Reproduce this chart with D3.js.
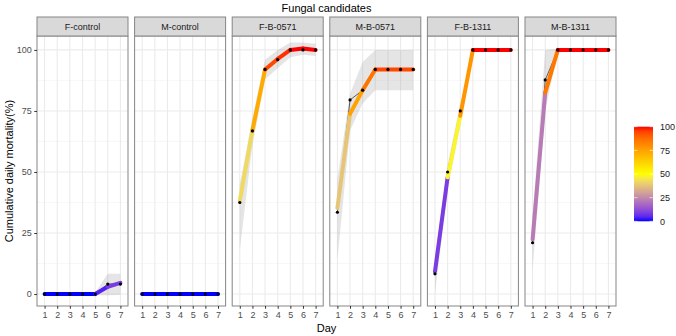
<!DOCTYPE html>
<html>
<head>
<meta charset="utf-8">
<script src="https://cdn.jsdelivr.net/npm/d3@7"></script>
<style>
  body { margin: 0; background: #fff; }
  svg { display: block; font-family: "Liberation Sans", Arial, sans-serif; }
</style>
</head>
<body>
<svg id="chart" width="676" height="336"></svg>
<script>
// ---------------- data ----------------
const days = [1, 2, 3, 4, 5, 6, 7];
const panels = ["F-control", "M-control", "F-B-0571", "M-B-0571", "F-B-1311", "M-B-1311"];

// observed cumulative mortality (black points)
const observed = [
  [0, 0, 0, 0, 0, 4.1, 4.1],
  [0, 0, 0, 0, 0, 0, 0],
  [37.5, 66.8, 92, 96, 100, 100, 100],
  [33.5, 79.5, 83.5, 92, 92, 92, 92],
  [8.3, 50, 75, 100, 100, 100, 100],
  [21, 87.7, 100, 100, 100, 100, 100]
];
// fitted line (thick coloured line)
const fitted = [
  [0, 0, 0, 0, 0, 3, 4.6],
  [0, 0, 0, 0, 0, 0, 0],
  [38.2, 67, 92, 96.3, 100, 100.6, 100],
  [35.2, 73.8, 83.5, 92, 92, 92, 92],
  [9.2, 47.8, 73, 100, 100, 100, 100],
  [22.4, 82.5, 100, 100, 100, 100, 100]
];
// colour value of each segment (day i -> day i+1)
const segColour = [
  [0, 0, 0, 0, 4, 9],
  [0, 0, 0, 0, 0, 0],
  [42, 73, 94, 97, 100, 100],
  [38, 75, 86, 94, 94, 94],
  [9, 48, 78, 100, 100, 100],
  [22, 85, 100, 100, 100, 100]
];
// confidence band
const bandLow = [
  [-0.3, -0.3, -0.3, -0.3, -0.5, -0.5, -0.4],
  [-0.3, -0.3, -0.3, -0.3, -0.3, -0.3, -0.3],
  [18, 61, 88, 92.5, 97, 98, 97.5],
  [14, 67, 78, 83.5, 83.5, 83.5, 83.5],
  [0, 43, 69, 99.6, 99.6, 99.6, 99.6],
  [10, 75, 99.5, 99.5, 99.5, 99.5, 99.5]
];
const bandHigh = [
  [0.3, 0.3, 0.3, 0.3, 0.5, 8.3, 8.3],
  [0.3, 0.3, 0.3, 0.3, 0.3, 0.3, 0.3],
  [45, 72, 96, 100, 103, 103, 102.5],
  [47, 82, 95, 100, 100, 100, 100],
  [15, 53, 78, 100.4, 100.4, 100.4, 100.4],
  [32, 100, 100.5, 100.5, 100.5, 100.5, 100.5]
];
const yTicks = [0, 25, 50, 75, 100];
const yMinor = [12.5, 37.5, 62.5, 87.5];
const legendTicks = [0, 25, 50, 75, 100];
const titleText = "Fungal candidates";
const xTitle = "Day";
const yTitle = "Cumulative daily mortality(%)";

// ---------------- layout ----------------
const svg = d3.select("#chart");
const panelTop = 36, panelBottom = 306, stripTop = 17;
const panelX0 = 37, panelStep = 97.6, panelW = 91;

const y = d3.scaleLinear().domain([-4.9, 105.7]).range([panelBottom, panelTop]);
const colour = d3.scaleLinear().domain([0, 50, 100])
  .range(["blue", "yellow", "red"]).interpolate(d3.interpolateLab);

const defs = svg.append("defs");

panels.forEach((name, p) => {
  const left = panelX0 + p * panelStep;
  const x = d3.scalePoint().domain(days).range([left, left + panelW]).padding(0.6);
  const g = svg.append("g");

  defs.append("clipPath").attr("id", "clip" + p)
    .append("rect").attr("x", left).attr("y", panelTop).attr("width", panelW).attr("height", panelBottom - panelTop);

  // grid
  g.selectAll(".ymin").data(yMinor).join("line")
    .attr("x1", left).attr("x2", left + panelW)
    .attr("y1", d => y(d)).attr("y2", d => y(d))
    .attr("stroke", "#f2f2f2").attr("stroke-width", 0.6);
  g.selectAll(".ymaj").data(yTicks).join("line")
    .attr("x1", left).attr("x2", left + panelW)
    .attr("y1", d => y(d)).attr("y2", d => y(d))
    .attr("stroke", "#ebebeb").attr("stroke-width", 1.1);
  g.selectAll(".xmaj").data(days).join("line")
    .attr("x1", d => x(d)).attr("x2", d => x(d))
    .attr("y1", panelTop).attr("y2", panelBottom)
    .attr("stroke", "#ebebeb").attr("stroke-width", 1.1);

  const inner = g.append("g").attr("clip-path", `url(#clip${p})`);

  // band
  const area = d3.area().x(d => x(d)).y0((d, i) => y(bandLow[p][i])).y1((d, i) => y(bandHigh[p][i]));
  inner.append("path").datum(days).attr("d", area)
    .attr("fill", "#999").attr("fill-opacity", 0.25);

  // thin black line through observations
  const line = d3.line().x(d => x(d)).y((d, i) => y(observed[p][i]));
  inner.append("path").datum(days).attr("d", line)
    .attr("fill", "none").attr("stroke", "#000").attr("stroke-width", 0.6);

  // thick coloured fitted line
  const segs = d3.range(days.length - 1);
  inner.selectAll(".seg").data(segs).join("line")
    .attr("x1", i => x(days[i])).attr("x2", i => x(days[i + 1]))
    .attr("y1", i => y(fitted[p][i])).attr("y2", i => y(fitted[p][i + 1]))
    .attr("stroke", i => colour(segColour[p][i]))
    .attr("stroke-width", 4).attr("stroke-linecap", "round");

  // points
  inner.selectAll(".pt").data(days).join("circle")
    .attr("cx", d => x(d)).attr("cy", (d, i) => y(observed[p][i]))
    .attr("r", 1.6).attr("fill", "#000");

  // border
  g.append("rect").attr("x", left).attr("y", panelTop).attr("width", panelW).attr("height", panelBottom - panelTop)
    .attr("fill", "none").attr("stroke", "#858585").attr("stroke-width", 1);

  // strip
  g.append("rect").attr("x", left).attr("y", stripTop).attr("width", panelW).attr("height", panelTop - stripTop)
    .attr("fill", "#d9d9d9").attr("stroke", "#858585").attr("stroke-width", 1);
  g.append("text").attr("x", left + panelW / 2).attr("y", (stripTop + panelTop) / 2 + 3.2)
    .attr("text-anchor", "middle").attr("font-size", 9).attr("fill", "#1a1a1a").text(name);

  // x axis
  const xa = g.append("g").attr("transform", `translate(0,${panelBottom})`)
    .call(d3.axisBottom(x).tickSize(2.75).tickPadding(2.5));
  xa.select(".domain").remove();
  xa.selectAll(".tick line").attr("stroke", "#333");
  xa.selectAll(".tick text").attr("fill", "#4d4d4d").attr("font-size", 9)
    .attr("font-family", "Liberation Sans, Arial, sans-serif");

  if (p === 0) {
    const ya = g.append("g").attr("transform", `translate(${left},0)`)
      .call(d3.axisLeft(y).tickValues(yTicks).tickSize(2.75).tickPadding(2.5));
    ya.select(".domain").remove();
    ya.selectAll(".tick line").attr("stroke", "#333");
    ya.selectAll(".tick text").attr("fill", "#4d4d4d").attr("font-size", 9)
      .attr("font-family", "Liberation Sans, Arial, sans-serif");
  }
});

// titles
svg.append("text").attr("x", 326.5).attr("y", 11.5).attr("text-anchor", "middle")
  .attr("font-size", 11).attr("fill", "#000").text(titleText);
svg.append("text").attr("x", 326.5).attr("y", 331.5).attr("text-anchor", "middle")
  .attr("font-size", 11).attr("fill", "#000").text(xTitle);
svg.append("text").attr("transform", `translate(12.5,${(panelTop + panelBottom) / 2}) rotate(-90)`)
  .attr("text-anchor", "middle").attr("font-size", 11).attr("fill", "#000").text(yTitle);

// legend colourbar
const lg = svg.append("g");
const barX = 634, barW = 19;
const ly = d3.scaleLinear().domain([0, 100]).range([221.3, 126.7]);
const grad = defs.append("linearGradient").attr("id", "lgrad")
  .attr("x1", 0).attr("x2", 0).attr("y1", 1).attr("y2", 0);
d3.range(0, 101, 5).forEach(v => {
  grad.append("stop").attr("offset", v / 100).attr("stop-color", colour(v));
});
lg.append("rect").attr("x", barX).attr("y", ly(100)).attr("width", barW).attr("height", ly(0) - ly(100))
  .attr("fill", "url(#lgrad)");
lg.selectAll(".ltick").data(legendTicks).join("g").each(function (d) {
  const s = d3.select(this);
  s.append("line").attr("x1", barX).attr("x2", barX + 3.5).attr("y1", ly(d)).attr("y2", ly(d))
    .attr("stroke", "#fff").attr("stroke-width", 0.6);
  s.append("line").attr("x1", barX + barW - 3.5).attr("x2", barX + barW).attr("y1", ly(d)).attr("y2", ly(d))
    .attr("stroke", "#fff").attr("stroke-width", 0.6);
  s.append("text").attr("x", 660).attr("y", ly(d) + 3.2).attr("font-size", 9)
    .attr("fill", "#1a1a1a").text(d);
});
</script>
</body>
</html>
